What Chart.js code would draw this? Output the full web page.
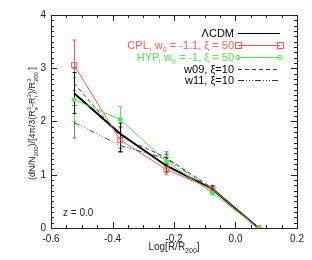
<!DOCTYPE html>
<html>
<head>
<meta charset="utf-8">
<script src="https://cdn.jsdelivr.net/npm/chart.js@4/dist/chart.umd.min.js"></script>
<style>
  body { margin: 0; background: #fff; }
  canvas { display: block; }
</style>
</head>
<body>
<canvas id="profile" width="312" height="260"></canvas>
<script>
// radial bins, log(R/R200)
const logR = [-0.525, -0.375, -0.225, -0.075, 0.075];

const lcdm    = [2.53, 1.77, 1.17, 0.73, 0];
const lcdmLo  = [2.15, 1.44, 1.05, 0.66, null];
const lcdmHi  = [2.92, 1.97, 1.32, 0.79, null];

const cpl     = [3.06, 1.65, 1.10, 0.73, 0];
const cplLo   = [2.58, 1.43, 1.00, 0.68, null];
const cplHi   = [3.53, 1.88, 1.20, 0.78, null];

const hyp     = [2.41, 2.04, 1.25, 0.66, 0];
const hypLo   = [2.00, 1.80, 1.15, 0.62, null];
const hypHi   = [2.82, 2.28, 1.35, 0.71, null];

const w09     = [2.72, 1.72, 1.32, 0.75, 0];
const w09Lo   = [2.30, 1.50, 1.20, 0.70, null];
const w09Hi   = [3.00, 1.90, 1.43, 0.80, null];

const w11     = [1.98, 1.55, 1.30, 0.72, 0];
const w11Lo   = [1.69, 1.42, 1.20, 0.67, null];
const w11Hi   = [2.30, 1.70, 1.38, 0.77, null];

const xTicks = [-0.6, -0.4, -0.2, 0.0, 0.2];
const yTicks = [0, 1, 2, 3, 4];

const RED = '#ff5555';
const GREEN = '#44ee44';
const FONT = '"Liberation Sans", Arial, sans-serif';

function pts(ys) {
    return ys.map((y, i) => ({ x: logR[i], y: y }));
}

// draw text made of pieces: {t} normal, {sub}, {sup}, {sub,sup} stacked
function drawRich(ctx, parts, x, y, size, align) {
    const small = Math.round(size * 0.65);
    const widthOf = (p) => {
        if (p.t !== undefined) { ctx.font = size + 'px ' + FONT; return ctx.measureText(p.t).width; }
        ctx.font = small + 'px ' + FONT;
        return Math.max(p.sub ? ctx.measureText(p.sub).width : 0, p.sup ? ctx.measureText(p.sup).width : 0);
    };
    const total = parts.reduce((s, p) => s + widthOf(p), 0);
    let cx = align === 'right' ? x - total : align === 'center' ? x - total / 2 : x;
    ctx.textAlign = 'left';
    ctx.textBaseline = 'alphabetic';
    parts.forEach(p => {
        const w = widthOf(p);
        if (p.t !== undefined) {
            ctx.font = size + 'px ' + FONT;
            ctx.fillText(p.t, cx, y);
        } else {
            ctx.font = small + 'px ' + FONT;
            if (p.sub) ctx.fillText(p.sub, cx, y + size * 0.3);
            if (p.sup) ctx.fillText(p.sup, cx, y - size * 0.45);
        }
        cx += w;
    });
}

const errorBars = {
    id: 'errorBars',
    beforeDatasetsDraw(chart) {
        const ctx = chart.ctx;
        const xs = chart.scales.x, ys = chart.scales.y;
        ctx.save();
        chart.data.datasets.forEach(ds => {
            if (!ds.lo) return;
            ctx.strokeStyle = ds.errColor;
            ctx.lineWidth = 1;
            ctx.setLineDash([]);
            ds.lo.forEach((lo, i) => {
                if (lo === null) return;
                const px = Math.round(xs.getPixelForValue(logR[i])) + 0.5;
                const p1 = ys.getPixelForValue(lo), p2 = ys.getPixelForValue(ds.hi[i]);
                ctx.beginPath();
                ctx.moveTo(px, p1); ctx.lineTo(px, p2);
                ctx.moveTo(px - 2, p1); ctx.lineTo(px + 2, p1);
                ctx.moveTo(px - 2, p2); ctx.lineTo(px + 2, p2);
                ctx.stroke();
            });
        });
        ctx.restore();
    }
};

const frame = {
    id: 'frame',
    afterDraw(chart) {
        const ctx = chart.ctx;
        const a = chart.chartArea;
        const xs = chart.scales.x, ys = chart.scales.y;
        ctx.save();
        ctx.strokeStyle = '#222';
        ctx.lineWidth = 1;
        ctx.setLineDash([]);
        ctx.strokeRect(Math.round(a.left) + 0.5, Math.round(a.top) + 0.5, Math.round(a.right - a.left), Math.round(a.bottom - a.top));

        ctx.beginPath();
        for (let v = -0.6; v <= 0.2001; v += 0.05) {
            const px = Math.round(xs.getPixelForValue(v)) + 0.5;
            const major = Math.abs(Math.round(v * 5) - v * 5) < 1e-6;
            const len = major ? 6 : 3;
            ctx.moveTo(px, a.bottom); ctx.lineTo(px, a.bottom - len);
            ctx.moveTo(px, a.top); ctx.lineTo(px, a.top + len);
        }
        for (let v = 0; v <= 4.001; v += 0.1) {
            const py = Math.round(ys.getPixelForValue(v)) + 0.5;
            const major = Math.abs(Math.round(v) - v) < 1e-6;
            const len = major ? 6 : 3;
            ctx.moveTo(a.left, py); ctx.lineTo(a.left + len, py);
            ctx.moveTo(a.right, py); ctx.lineTo(a.right - len, py);
        }
        ctx.stroke();

        // axis titles
        ctx.fillStyle = '#222';
        drawRich(ctx, [{ t: 'Log[R/R' }, { sub: '200' }, { t: ']' }], (a.left + a.right) / 2, 250, 10, 'center');

        ctx.save();
        ctx.translate(35, (a.top + a.bottom) / 2 + 2);
        ctx.rotate(-Math.PI / 2);
        drawRich(ctx, [
            { t: '(dN/N' }, { sub: '200' }, { t: ')/[4π/3(R' }, { sub: 'e', sup: '3' },
            { t: '-R' }, { sub: 'i', sup: '3' }, { t: ')/R' }, { sub: '200', sup: '3' }, { t: ' ]' }
        ], 0, 0, 9, 'center');
        ctx.restore();

        ctx.font = '10px ' + FONT;
        ctx.textAlign = 'left';
        ctx.fillText('z = 0.0', 63, 216);

        // legend
        const tx = 234, l1 = 238, l2 = 280;
        const rows = [33, 45, 57, 69, 80];
        const size = 11;
        ctx.fillStyle = '#000';
        drawRich(ctx, [{ t: 'ΛCDM' }], tx, rows[0] + 4, size, 'right');
        ctx.fillStyle = RED;
        drawRich(ctx, [{ t: 'CPL, w' }, { sub: '0' }, { t: ' = -1.1, ξ = 50' }], tx, rows[1] + 4, size, 'right');
        ctx.fillStyle = GREEN;
        drawRich(ctx, [{ t: 'HYP, w' }, { sub: '0' }, { t: ' = -1, ξ = 50' }], tx, rows[2] + 4, size, 'right');
        ctx.fillStyle = '#000';
        drawRich(ctx, [{ t: 'w09, ξ=10' }], tx, rows[3] + 4, size, 'right');
        drawRich(ctx, [{ t: 'w11, ξ=10' }], tx, rows[4] + 4, size, 'right');

        const seg = (y, color, dash, w) => {
            ctx.strokeStyle = color;
            ctx.lineWidth = w;
            ctx.setLineDash(dash);
            ctx.beginPath();
            ctx.moveTo(l1, y + 0.5); ctx.lineTo(l2, y + 0.5);
            ctx.stroke();
            ctx.setLineDash([]);
        };
        seg(rows[0], '#000', [], 1);
        seg(rows[1], RED, [], 1);
        seg(rows[2], GREEN, [], 1);
        seg(rows[3], '#333', [4, 3], 1);
        seg(rows[4], '#333', [6, 2, 1, 2, 1, 2, 1, 2], 1);
        ctx.lineWidth = 1;
        ctx.strokeStyle = RED;
        [l1, l2].forEach(x => ctx.strokeRect(x - 2.5, rows[1] - 2.5, 6, 6));
        ctx.strokeStyle = GREEN;
        [l1, l2].forEach(x => { ctx.beginPath(); ctx.arc(x, rows[2] + 0.5, 2.2, 0, Math.PI * 2); ctx.stroke(); });
        ctx.restore();
    }
};

new Chart(document.getElementById('profile'), {
    type: 'line',
    data: {
        datasets: [
            { label: 'w11, ξ=10', data: pts(w11), lo: w11Lo, hi: w11Hi, errColor: '#777',
              borderColor: '#444', borderWidth: 1, borderDash: [6, 2, 1, 2, 1, 2, 1, 2], pointRadius: 0 },
            { label: 'w09, ξ=10', data: pts(w09), lo: w09Lo, hi: w09Hi, errColor: '#666',
              borderColor: '#444', borderWidth: 1, borderDash: [4, 3], pointRadius: 0 },
            { label: 'HYP', data: pts(hyp), lo: hypLo, hi: hypHi, errColor: GREEN,
              borderColor: GREEN, borderWidth: 1, pointStyle: 'circle', pointRadius: 2,
              pointBackgroundColor: GREEN, pointBorderColor: GREEN },
            { label: 'CPL', data: pts(cpl), lo: cplLo, hi: cplHi, errColor: RED,
              borderColor: RED, borderWidth: 1, pointStyle: 'rect', pointRadius: 3.5,
              pointBackgroundColor: 'rgba(0,0,0,0)', pointBorderColor: RED, pointBorderWidth: 1 },
            { label: 'ΛCDM', data: pts(lcdm), lo: lcdmLo, hi: lcdmHi, errColor: '#111',
              borderColor: '#000', borderWidth: 2, pointRadius: 0 }
        ]
    },
    options: {
        responsive: false,
        animation: false,
        layout: { padding: { top: 15, right: 15, left: 0, bottom: 0 } },
        plugins: { legend: { display: false }, tooltip: { enabled: false } },
        elements: { line: { tension: 0 } },
        scales: {
            x: {
                type: 'linear', min: -0.6, max: 0.2,
                afterBuildTicks: (s) => { s.ticks = xTicks.map(v => ({ value: v })); },
                afterFit: (s) => { s.height = 32; },
                grid: { display: false, drawTicks: false },
                border: { display: false },
                ticks: { color: '#222', padding: 5, font: { size: 10, family: FONT },
                         callback: (v) => v.toFixed(1), maxRotation: 0 }
            },
            y: {
                type: 'linear', min: 0, max: 4,
                afterBuildTicks: (s) => { s.ticks = yTicks.map(v => ({ value: v })); },
                afterFit: (s) => { s.width = 51; },
                grid: { display: false, drawTicks: false },
                border: { display: false },
                ticks: { color: '#222', padding: 5, font: { size: 10, family: FONT } }
            }
        }
    },
    plugins: [errorBars, frame]
});
</script>
</body>
</html>
